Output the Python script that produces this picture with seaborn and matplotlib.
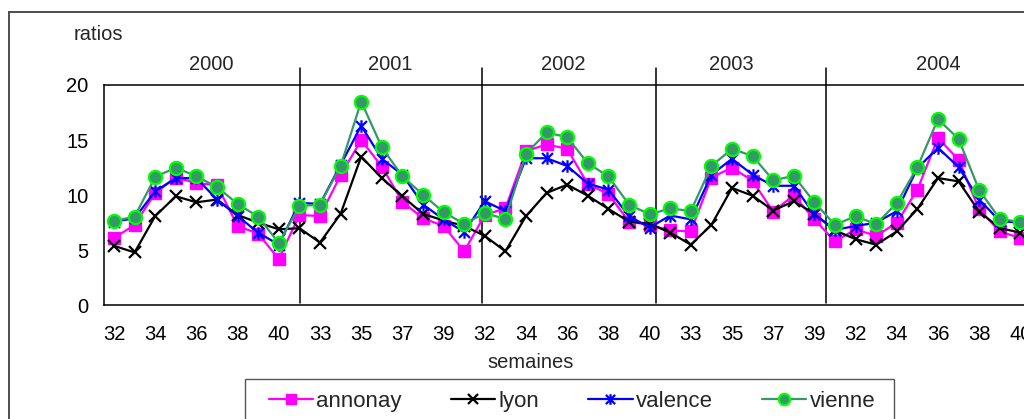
import numpy as np
import pandas as pd
import matplotlib
matplotlib.use("Agg")
import matplotlib.pyplot as plt
import seaborn as sns
from matplotlib.path import Path
from matplotlib.lines import Line2D
from matplotlib.patches import Rectangle

# ---------------- data ----------------
years = [2000, 2001, 2002, 2003, 2004]
weeks = [32, 33, 34, 35, 36, 37, 38, 39, 40]

annonay = [6.1, 7.3, 10.2, 11.6, 11.1, 10.9, 7.2, 6.5, 4.2,
           8.2, 8.1, 11.8, 15.0, 12.6, 9.4, 7.9, 7.2, 4.9,
           8.2, 8.8, 14.0, 14.6, 14.2, 11.0, 10.1, 7.6, 7.3,
           6.8, 6.7, 11.6, 12.5, 11.3, 8.5, 10.0, 7.8, 5.8,
           6.9, 6.3, 7.5, 10.5, 15.2, 13.2, 8.7, 6.7, 6.1]
lyon = [5.4, 4.8, 8.1, 9.9, 9.35, 9.6, 8.2, 7.5, 6.9,
        7.0, 5.7, 8.3, 13.5, 11.55, 9.9, 8.3, 7.7, 7.2,
        6.3, 4.9, 8.1, 10.2, 10.95, 9.95, 8.75, 7.6, 7.4,
        6.6, 5.5, 7.3, 10.65, 9.95, 8.6, 9.45, 8.3, 6.8,
        6.0, 5.5, 6.7, 8.75, 11.55, 11.25, 8.5, 7.0, 6.6]
valence = [7.6, 7.9, 10.35, 11.55, 11.55, 9.6, 8.1, 6.6, 5.5,
           9.3, 9.2, 12.75, 16.3, 13.3, 11.85, 9.15, 7.8, 6.65,
           9.45, 8.55, 13.35, 13.35, 12.65, 11.05, 10.5, 8.1, 7.05,
           8.15, 7.8, 11.85, 13.3, 11.85, 10.85, 10.85, 8.25, 6.85,
           7.2, 7.5, 8.55, 12.45, 14.3, 12.55, 9.6, 7.65, 7.5]
vienne = [7.65, 8.05, 11.65, 12.5, 11.7, 10.75, 9.2, 8.05, 5.65,
          9.0, 9.15, 12.65, 18.5, 14.35, 11.7, 10.05, 8.45, 7.4,
          8.35, 7.85, 13.75, 15.7, 15.25, 12.9, 11.7, 9.15, 8.25,
          8.8, 8.55, 12.65, 14.2, 13.55, 11.35, 11.75, 9.35, 7.3,
          8.1, 7.35, 9.3, 12.55, 16.9, 15.1, 10.45, 7.85, 7.55]

week_labels = [w for y in years for w in weeks]
pos = np.arange(len(week_labels))
df = pd.DataFrame({"pos": pos, "week": week_labels, "annonay": annonay,
                   "lyon": lyon, "valence": valence, "vienne": vienne})

# ---------------- style ----------------
sns.set_style("white")
plt.rcParams["font.family"] = ["Liberation Sans", "DejaVu Sans"]

W, H = 1024, 419
fig = plt.figure(figsize=(W / 100, H / 100), dpi=100)

def fx(px):
    return px / W

def fy(py):
    return 1 - py / H

ax_left, ax_right, ax_top, ax_bottom = 103.7, 1030.7, 85.0, 305.3
ax = fig.add_axes([fx(ax_left), fy(ax_bottom), fx(ax_right - ax_left),
                   (ax_bottom - ax_top) / H])

star = Path([(-1, -1), (1, 1), (-1, 1), (1, -1), (0, -1.15), (0, 1.15)],
            [Path.MOVETO, Path.LINETO, Path.MOVETO, Path.LINETO,
             Path.MOVETO, Path.LINETO])

series = [
    ("annonay", dict(color="#FF00FF", marker="s", markersize=9,
                     markerfacecolor="#FF00FF", markeredgecolor="#FF00FF", mew=1)),
    ("lyon", dict(color="black", marker="x", markersize=9,
                  markerfacecolor="black", markeredgecolor="black", mew=1.6)),
    ("valence", dict(color="#0000FF", marker=star, markersize=9,
                     markerfacecolor="#0000FF", markeredgecolor="#0000FF", mew=1.6)),
    ("vienne", dict(color="#339966", marker="o", markersize=9.5,
                    markerfacecolor="#339966", markeredgecolor="#00FF00", mew=1.6)),
]

handles = []
for name, kw in series:
    sns.lineplot(data=df, x="pos", y=name, ax=ax, linewidth=1.6,
                 errorbar=None, legend=False, **kw)
    line = ax.lines[-1]
    line.set_label(name)
    handles.append(line)

# axes
ax.set_xlim(-0.5, len(pos) - 0.5)
ax.set_ylim(0, 20)
ax.set_yticks([0, 5, 10, 15, 20])
ax.set_xticks(pos[::2])
ax.set_xticklabels([str(w) for w in week_labels[::2]])
ax.set_xticks(np.arange(-0.5, len(pos)), minor=True)
ax.tick_params(axis="x", which="major", length=0, pad=14, labelsize=14.5, colors="black")
ax.tick_params(axis="x", which="minor", length=5, width=1, direction="out", colors="black")
ax.tick_params(axis="y", which="major", length=5, width=1, direction="out", pad=6,
               labelsize=14.5, colors="black")
ax.set_xlabel("")
ax.set_ylabel("")
for s in ["left", "bottom", "top"]:
    ax.spines[s].set_visible(True)
    ax.spines[s].set_color("black")
    ax.spines[s].set_linewidth(1.1)
ax.spines["right"].set_visible(False)
ax.grid(False)

# year separators and labels
dividers = [9.03, 17.85, 26.3, 34.56]
for d in dividers:
    ax.axvline(d, ymin=0.01, ymax=(ax_bottom - 68) / (ax_bottom - ax_top),
               color="black", lw=1.1, clip_on=False, zorder=1)
year_x = [4.71, 13.4, 21.8, 29.95, 40.0]
ytxt = (ax_bottom - 65) / (ax_bottom - ax_top)
for yx, yr in zip(year_x, years):
    ax.text(yx, ytxt, str(yr), transform=ax.get_xaxis_transform(),
            ha="center", va="center", fontsize=14.5)

fig.text(fx(98), fy(34), "ratios", ha="center", va="center", fontsize=14.5)
fig.text(fx(531), fy(362), "semaines", ha="center", va="center", fontsize=14.5)

# outer chart border
fig.add_artist(Line2D([fx(9), fx(9)], [fy(12), fy(430)], transform=fig.transFigure,
                      color="#404040", lw=1.3))
fig.add_artist(Line2D([fx(9), fx(1030)], [fy(12), fy(12)], transform=fig.transFigure,
                      color="#404040", lw=1.3))

# legend
fig.add_artist(Rectangle((fx(245), fy(440)), fx(894 - 245), (440 - 379) / H,
                         transform=fig.transFigure, fill=False,
                         edgecolor="#555555", lw=1.0))
fig.legend(handles=handles, labels=[h.get_label() for h in handles],
           loc="center", bbox_to_anchor=(fx(572), fy(401)), ncol=4,
           frameon=False, fontsize=16, handlelength=2.0, handletextpad=0.15,
           columnspacing=2.2, borderpad=0, markerscale=0.85)

fig.savefig("out.png", dpi=100)
